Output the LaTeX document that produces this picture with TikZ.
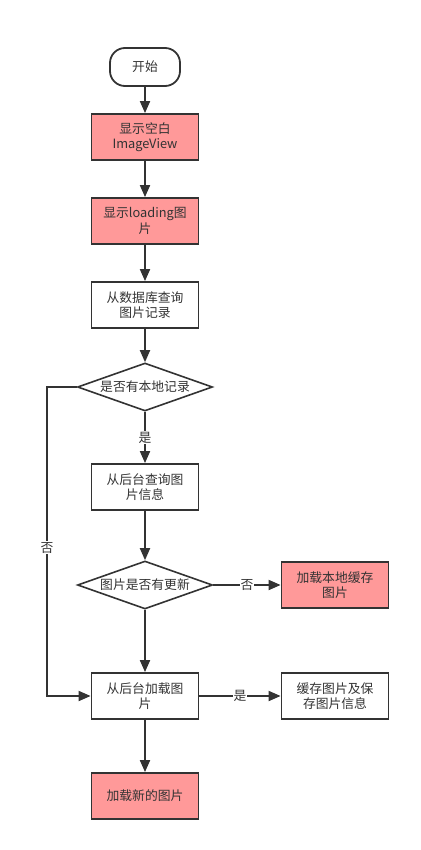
\documentclass[tikz,border=0pt]{standalone}
\usepackage{fontspec}
\setmainfont{Noto Sans CJK SC}
\usetikzlibrary{shapes.geometric,arrows.meta}
\definecolor{linegray}{HTML}{333333}
\definecolor{boxred}{HTML}{FF9999}

\begin{document}
\begin{tikzpicture}[x=1pt,y=-1pt,
  every node/.style={text=linegray,font=\fontsize{12.8}{15.5}\selectfont},
  box/.style={draw=linegray,line width=1.8pt,minimum width=107pt,minimum height=46pt,align=center,inner sep=2pt},
  redbox/.style={box,fill=boxred},
  startbox/.style={draw=linegray,line width=1.8pt,rounded corners=15pt,minimum width=70pt,minimum height=38pt},
  decision/.style={diamond,draw=linegray,line width=1.6pt,aspect=2.8,minimum width=135pt,minimum height=48pt,inner sep=0pt},
  line/.style={draw=linegray,line width=1.8pt,-{Triangle[length=12pt,width=10pt]}},
  lbl/.style={fill=white,inner sep=1pt}]
\useasboundingbox (0,0) rectangle (420,850);
\node[startbox] (start) at (145,67) {开始};
\node[redbox] (blank) at (145,137) {显示空白\\ImageView};
\node[redbox] (loading) at (145,221) {显示loading图\\片};
\node[box] (query) at (145,305) {从数据库查询\\图片记录};
\node[decision] (haslocal) at (145,387) {是否有本地记录};
\node[box] (info) at (145,487) {从后台查询图\\片信息};
\node[decision] (updated) at (145,585) {图片是否有更新};
\node[redbox] (cache) at (335,585) {加载本地缓存\\图片};
\node[box] (fetch) at (145,696) {从后台加载图\\片};
\node[box] (save) at (335,696) {缓存图片及保\\存图片信息};
\node[redbox] (shownew) at (145,796) {加载新的图片};
\coordinate (left) at (47,387);

\draw[line] (start) -- (blank);
\draw[line] (blank) -- (loading);
\draw[line] (loading) -- (query);
\draw[line] (query) -- (haslocal);
\draw[line] (haslocal) -- node[lbl] {是} (info);
\draw[line] (info) -- (updated);
\draw[line] (updated) -- node[lbl] {否} (cache);
\draw[line] (updated) -- (fetch);
\draw[line] (haslocal.west) -- (left) |- node[lbl,pos=0.26] {否} (fetch.west);
\draw[line] (fetch) -- node[lbl] {是} (save);
\draw[line] (fetch) -- (shownew);
\end{tikzpicture}
\end{document}
